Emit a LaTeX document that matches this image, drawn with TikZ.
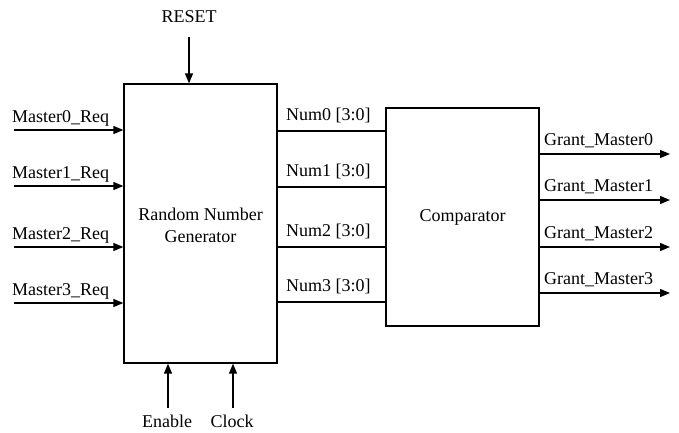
\documentclass[tikz,border=0pt]{standalone}
\usepackage{fontspec}
\setmainfont{Liberation Serif}
\usetikzlibrary{arrows.meta}
\begin{document}
\begin{tikzpicture}[x=1pt,y=-1pt,
  wire/.style={line width=1.3pt},
  sig/.style={wire,-{Triangle[length=10pt,width=8pt]}},
  lbl/.style={font=\fontsize{18}{22}\selectfont,inner sep=0pt},
  block/.style={draw,line width=1.3pt}]
\useasboundingbox (0,0) rectangle (679,432);
% blocks
\node[block,minimum width=153pt,minimum height=279pt] (rng) at (200.5,223.5) {};
\node[lbl,align=center] at (200.5,225) {Random Number\\Generator};
\node[block,minimum width=153pt,minimum height=218pt] (cmp) at (462.5,217) {};
\node[lbl] at (462.5,217) {Comparator};
% reset, enable, clock
\node[lbl,anchor=base] (reset) at (189,22) {RESET};
\coordinate (rsttop) at (189,37);
\draw[sig] (rsttop) -- (rsttop |- rng.north);
\node[lbl,anchor=base] (en) at (167,427) {Enable};
\node[lbl,anchor=base] (clk) at (232,427) {Clock};
\coordinate (enb) at (168,408);
\coordinate (clkb) at (233,408);
\draw[sig] (enb) -- (enb |- rng.south);
\draw[sig] (clkb) -- (clkb |- rng.south);
% master requests
\foreach \i/\y in {0/130,1/186,2/247,3/303}{
  \coordinate (m\i) at (14,\y);
  \node[lbl,anchor=base west] (ml\i) at (12,\y-8) {Master\i\_Req};
  \draw[sig] (m\i) -- (m\i -| rng.west);
}
% random numbers
\foreach \i/\y in {0/131,1/187,2/247,3/302}{
  \coordinate (n\i) at (277,\y);
  \node[lbl,anchor=base west] (nl\i) at (286,\y-11) {Num\i{} [3:0]};
  \draw[wire] (n\i -| rng.east) -- (n\i -| cmp.west);
}
% grants
\foreach \i/\y in {0/154,1/200,2/247,3/293}{
  \coordinate (g\i) at (670,\y);
  \node[lbl,anchor=base west] (gl\i) at (544,\y-9) {Grant\_Master\i};
  \draw[sig] (g\i -| cmp.east) -- (g\i);
}
\end{tikzpicture}
\end{document}
